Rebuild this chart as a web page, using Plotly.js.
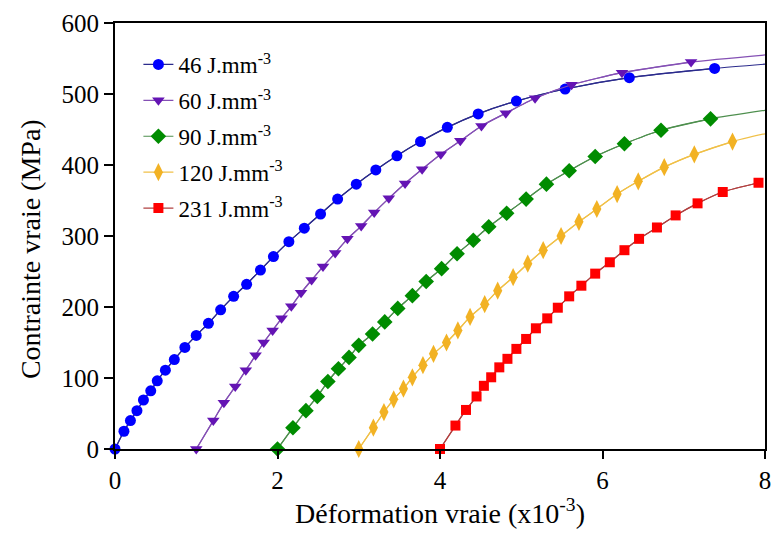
<!DOCTYPE html>
<html>
<head>
<meta charset="utf-8">
<script src="https://cdn.plot.ly/plotly-3.0.1.min.js"></script>
<style>html,body{margin:0;padding:0;background:#fff;}#chart{width:771px;height:533px;}</style>
</head>
<body>
<div id="chart"></div>
<script>
// Series labels
const seriesNames = ["46 J.mm<sup>-3</sup>", "60 J.mm<sup>-3</sup>", "90 J.mm<sup>-3</sup>", "120 J.mm<sup>-3</sup>", "231 J.mm<sup>-3</sup>"];

// 46 J.mm-3 (markers)
const x46 = [0, 0.11, 0.19, 0.27, 0.35, 0.44, 0.52, 0.62, 0.73, 0.86, 1.0, 1.15, 1.3, 1.46, 1.62, 1.79, 1.95, 2.14, 2.33, 2.53, 2.74, 2.97, 3.21, 3.47, 3.76, 4.09, 4.47, 4.94, 5.54, 6.33, 7.38];
const y46 = [0, 25, 40, 54, 69, 82, 96, 111, 126, 143, 160, 177, 196, 215, 232, 252, 271, 292, 311, 331, 352, 373, 393, 413, 433, 453, 472, 490, 507, 523, 536];
// 60 J.mm-3
const x60 = [1.0, 1.21, 1.34, 1.48, 1.61, 1.73, 1.83, 1.94, 2.05, 2.17, 2.29, 2.42, 2.56, 2.71, 2.86, 3.03, 3.19, 3.37, 3.57, 3.78, 4.01, 4.25, 4.51, 4.81, 5.17, 5.62, 6.24, 7.09];
const y60 = [0, 40, 65, 88, 111, 132, 150, 167, 184, 201, 220, 238, 257, 276, 296, 314, 333, 353, 374, 394, 415, 434, 455, 473, 494, 513, 530, 545];
// 90 J.mm-3
const x90 = [2.0, 2.19, 2.35, 2.49, 2.62, 2.75, 2.88, 3.0, 3.17, 3.32, 3.48, 3.66, 3.83, 4.02, 4.21, 4.41, 4.6, 4.82, 5.06, 5.31, 5.59, 5.91, 6.27, 6.72, 7.33];
const y90 = [0, 30, 54, 74, 95, 113, 129, 146, 162, 179, 198, 216, 236, 254, 275, 294, 313, 332, 352, 373, 392, 412, 430, 449, 465];
// 120 J.mm-3
const x120 = [3.0, 3.18, 3.31, 3.43, 3.55, 3.66, 3.79, 3.92, 4.08, 4.22, 4.37, 4.55, 4.71, 4.9, 5.08, 5.27, 5.49, 5.71, 5.93, 6.18, 6.44, 6.76, 7.13, 7.6];
const y120 = [0, 30, 52, 70, 85, 101, 118, 134, 150, 167, 186, 204, 223, 242, 261, 280, 300, 320, 338, 359, 377, 397, 415, 433];
// 231 J.mm-3
const x231 = [4.0, 4.19, 4.32, 4.45, 4.54, 4.63, 4.73, 4.83, 4.94, 5.06, 5.18, 5.32, 5.45, 5.59, 5.74, 5.91, 6.09, 6.27, 6.45, 6.67, 6.9, 7.17, 7.48, 7.92];
const y231 = [0, 33, 55, 74, 89, 101, 115, 127, 141, 155, 170, 184, 199, 215, 230, 247, 263, 280, 296, 312, 329, 346, 362, 375];

// Curve continuation to the right edge (line only)
const tailX = [8, 8, 8, 8, 7.92];
const tailY = [542, 555, 477, 444, 375];

// Axis ticks and titles
const xTicks = [0, 2, 4, 6, 8];
const yTicks = [0, 100, 200, 300, 400, 500, 600];
const xTitle = "Déformation vraie (x10<sup>-3</sup>)";
const yTitle = "Contrainte vraie (MPa)";

const xs = [x46, x60, x90, x120, x231];
const ys = [y46, y60, y90, y120, y231];
const markerColors = ["#0000ff", "#6414b4", "#008c00", "#f2b224", "#ff0000"];
const lineColors = ["#2b2b8c", "#8450b4", "#4e8f4e", "#f0c048", "#b04040"];
const symbols = ["circle", "triangle-down", "diamond", "diamond-tall", "square"];
const sizes = [11, 11, 12, 13, 10];

const FAM = "Liberation Serif";

const traces = [];
for (let i = 0; i < 5; i++) {
  traces.push({
    x: xs[i].concat([tailX[i]]), y: ys[i].concat([tailY[i]]),
    mode: "lines", type: "scatter", showlegend: false, hoverinfo: "skip",
    legendgroup: "g" + i,
    line: {color: lineColors[i], width: 1.2, shape: "spline", smoothing: 0.6},
    cliponaxis: false
  });
}
for (let i = 0; i < 5; i++) {
  traces.push({
    x: xs[i], y: ys[i], name: seriesNames[i],
    mode: "lines+markers", type: "scatter",
    legendgroup: "g" + i,
    line: {color: lineColors[i], width: 1.2, shape: "spline", smoothing: 0.6},
    marker: {color: markerColors[i], symbol: symbols[i], size: sizes[i], line: {width: 0}},
    cliponaxis: false
  });
}

const layout = {
  width: 771, height: 533,
  margin: {l: 115, r: 6, t: 23, b: 84},
  paper_bgcolor: "#fff", plot_bgcolor: "#fff",
  font: {family: FAM, size: 24, color: "#000"},
  showlegend: true,
  legend: {
    x: 0.036, y: 0.953, xanchor: "left", yanchor: "top",
    bgcolor: "rgba(0,0,0,0)", borderwidth: 0,
    font: {family: FAM, size: 23, color: "#000"},
    tracegroupgap: 3
  },
  xaxis: {
    range: [0, 8], tickvals: xTicks, ticktext: xTicks.map(String),
    ticks: "outside", ticklen: 8, tickwidth: 2, tickcolor: "#000",
    showline: true, linewidth: 2, linecolor: "#000", mirror: true,
    showgrid: false, zeroline: false, ticklabeloverflow: "allow",
    tickfont: {family: FAM, size: 25, color: "#000"},
    title: {text: xTitle, font: {family: FAM, size: 28, color: "#000"}, standoff: 6}
  },
  yaxis: {
    range: [0, 600], tickvals: yTicks, ticktext: yTicks.map(String),
    ticks: "outside", ticklen: 9, tickwidth: 2, tickcolor: "#000",
    showline: true, linewidth: 2, linecolor: "#000", mirror: true,
    showgrid: false, zeroline: false, ticklabeloverflow: "allow",
    tickfont: {family: FAM, size: 25, color: "#000"}
  },
  annotations: [{
    text: yTitle, textangle: -90, showarrow: false,
    xref: "paper", yref: "paper", x: -0.131, y: 0.469, xanchor: "center", yanchor: "middle",
    font: {family: FAM, size: 28, color: "#000"}
  }]
};

Plotly.newPlot("chart", traces, layout, {displayModeBar: false, staticPlot: true});
</script>
</body>
</html>
